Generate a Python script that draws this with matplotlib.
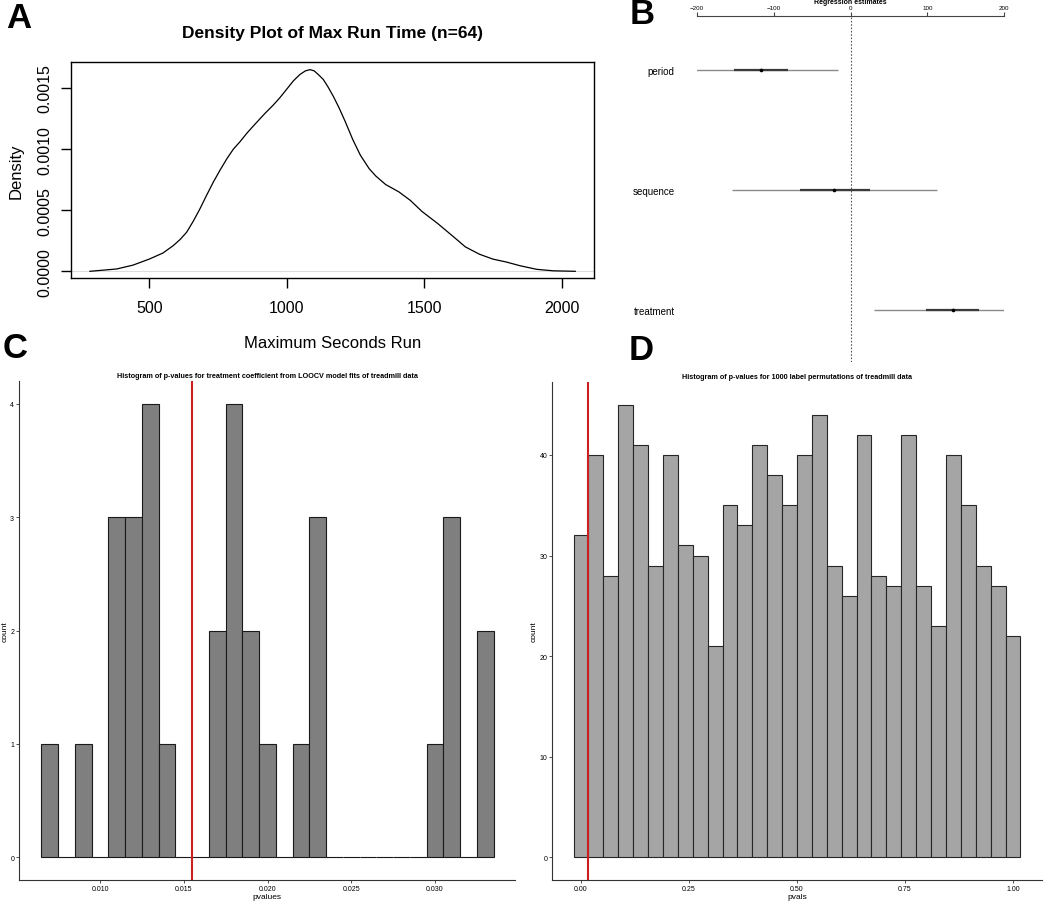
import matplotlib
matplotlib.use('Agg')
import matplotlib.pyplot as plt
import numpy as np

plt.rcParams['font.family'] = ['Liberation Sans', 'DejaVu Sans']

# A: density of max run time
dens_x = [284, 381, 440, 500, 550, 587, 612, 636, 660, 684, 708, 733, 758, 782,
          806, 830, 855, 879, 920, 951, 975, 1000, 1025, 1048, 1068, 1085, 1100,
          1115, 1133, 1150, 1170, 1190, 1212, 1240, 1268, 1300, 1324, 1360,
          1408, 1450, 1492, 1550, 1603, 1650, 1701, 1750, 1799, 1850, 1910, 1970, 2050]
dens_y = [0, 0.000019, 0.00005, 0.0001, 0.00015, 0.00021, 0.00026, 0.00032, 0.00041,
          0.00051, 0.00062, 0.00073, 0.00083, 0.00092, 0.00100, 0.00106, 0.00113,
          0.00119, 0.00129, 0.00136, 0.00142, 0.00149, 0.00156, 0.00161, 0.00164,
          0.00165, 0.00164, 0.00161, 0.00157, 0.00151, 0.00143, 0.00134, 0.00123,
          0.00108, 0.00095, 0.00084, 0.00078, 0.00071, 0.00065, 0.00058, 0.00049,
          0.00039, 0.00029, 0.00020, 0.00014, 0.00010, 0.000076, 0.000045,
          0.000016, 0.000004, 0]

# B: regression estimates
terms = ['period', 'sequence', 'treatment']
est = [-117, -21, 133]
inner_lo = [-152, -66, 99]
inner_hi = [-81, 25, 168]
outer_lo = [-218, -154, 31]
outer_hi = [-16, 113, 234]

# C: LOOCV p-values histogram
loocv_bins = [0.007, 0.008, 0.009, 0.010, 0.011, 0.012, 0.013, 0.014, 0.015,
              0.016, 0.017, 0.018, 0.019, 0.020, 0.021, 0.022, 0.023, 0.024,
              0.025, 0.026, 0.027, 0.028, 0.029, 0.030, 0.031, 0.032, 0.033]
loocv_counts = [1, 0, 1, 0, 3, 3, 4, 1, 0, 0, 2, 4, 2, 1, 0, 1, 3,
                0, 0, 0, 0, 0, 0, 1, 3, 0, 2]
obs_p = 0.0155

# D: permutation p-values histogram (30 bins)
perm_counts = [32, 40, 28, 45, 41, 29, 40, 31, 30, 21, 35, 33, 41, 38, 35,
               40, 44, 29, 26, 42, 28, 27, 42, 27, 23, 40, 35, 29, 27, 22]

W, H = 1050, 904
fig = plt.figure(figsize=(W / 100, H / 100), dpi=100)


def box(l, t, r, b):
    return [l / W, 1 - b / H, (r - l) / W, (b - t) / H]


# ---- A
ax = fig.add_axes(box(70.7, 62.7, 594.5, 279))
ax.axhline(0, color='#dddddd', lw=0.8)
ax.plot(dens_x, dens_y, color='black', lw=0.9)
ax.set_xlim(214, 2120)
ax.set_ylim(-0.0000548, 0.001715)
ax.set_xticks([500, 1000, 1500, 2000])
ax.set_yticks([0, 0.0005, 0.001, 0.0015])
ax.set_yticklabels(['0.0000', '0.0005', '0.0010', '0.0015'], rotation=90, va='center')
ax.tick_params(direction='out', length=7, width=1, labelsize=11.5)
ax.tick_params(axis='x', pad=9)
ax.tick_params(axis='y', pad=6)
for s in ax.spines.values():
    s.set_linewidth(1)
ax.set_title('Density Plot of Max Run Time (n=64)', fontsize=12.5,
             fontweight='bold', pad=18)
ax.set_xlabel('Maximum Seconds Run', fontsize=12, labelpad=14)
ax.set_ylabel('Density', fontsize=12, labelpad=10)

# ---- B
ax = fig.add_axes(box(697, 17, 1004, 363))
ypos = np.arange(len(terms))
ax.hlines(ypos, outer_lo, outer_hi, color='#8a8a8a', lw=1)
ax.hlines(ypos, inner_lo, inner_hi, color='#3a3a3a', lw=1.6)
ax.plot(est, ypos, 'o', color='black', ms=1.6)
ax.axvline(0, color='#555555', lw=0.8, ls=(0, (1.5, 1.5)))
ax.set_xlim(-200, 200)
ax.set_ylim(2.433, -0.45)
ax.xaxis.tick_top()
ax.set_xticks([-200, -100, 0, 100, 200])
ax.tick_params(axis='x', direction='out', length=3, width=0.8, labelsize=4.5,
               pad=1, color='#444444')
ax.set_yticks(ypos)
ax.set_yticklabels(terms, fontsize=7)
ax.tick_params(axis='y', length=0, pad=16)
for k in ['left', 'right', 'bottom']:
    ax.spines[k].set_visible(False)
ax.spines['top'].set_linewidth(0.8)
ax.spines['top'].set_color('#444444')
ax.set_title('Regression estimates', fontsize=5, fontweight='bold', pad=1)

# ---- C
ax = fig.add_axes(box(19, 382, 515, 881))
ax.bar(loocv_bins, loocv_counts, width=0.001, color='#7f7f7f',
       edgecolor='#1a1a1a', linewidth=0.8)
ax.axvline(obs_p, color='#cc1f1f', lw=1.5)
ax.set_xlim(0.00516, 0.03478)
ax.set_ylim(-0.2, 4.2)
ax.set_xticks([0.010, 0.015, 0.020, 0.025, 0.030])
ax.set_xticklabels(['0.010', '0.015', '0.020', '0.025', '0.030'])
ax.set_yticks([0, 1, 2, 3, 4])
ax.tick_params(length=2, width=0.6, labelsize=5, pad=1.5, color='#333333')
for k in ['top', 'right']:
    ax.spines[k].set_visible(False)
for k in ['left', 'bottom']:
    ax.spines[k].set_linewidth(0.8)
    ax.spines[k].set_color('#333333')
ax.set_title('Histogram of p-values for treatment coefficient from LOOCV model fits of treadmill data',
             fontsize=5.2, fontweight='bold', pad=3)
ax.set_xlabel('pvalues', fontsize=6, labelpad=1)
ax.set_ylabel('count', fontsize=6, labelpad=1)

# ---- D
ax = fig.add_axes(box(552, 383, 1042, 881))
bw = 1 / 29
ax.bar(np.arange(len(perm_counts)) * bw, perm_counts, width=bw, color='#a5a5a5',
       edgecolor='#262626', linewidth=0.8)
ax.axvline(obs_p, color='#cc1f1f', lw=1.5)
ax.set_xlim(-0.067, 1.067)
ax.set_ylim(-2.25, 47.25)
ax.set_xticks([0, 0.25, 0.5, 0.75, 1.0])
ax.set_xticklabels(['0.00', '0.25', '0.50', '0.75', '1.00'])
ax.set_yticks([0, 10, 20, 30, 40])
ax.tick_params(length=2, width=0.6, labelsize=5, pad=1.5, color='#333333')
for k in ['top', 'right']:
    ax.spines[k].set_visible(False)
for k in ['left', 'bottom']:
    ax.spines[k].set_linewidth(0.8)
    ax.spines[k].set_color('#333333')
ax.set_title('Histogram of p-values for 1000 label permutations of treadmill data',
             fontsize=5.2, fontweight='bold', pad=3)
ax.set_xlabel('pvals', fontsize=6, labelpad=1)
ax.set_ylabel('count', fontsize=6, labelpad=1)

# panel letters
for letter, x, y in [('A', 19, 18), ('B', 642, 15), ('C', 15, 349), ('D', 641, 350)]:
    fig.text(x / W, 1 - y / H, letter, fontsize=25, fontweight='bold',
             ha='center', va='center')

fig.savefig('out.png', dpi=100)
